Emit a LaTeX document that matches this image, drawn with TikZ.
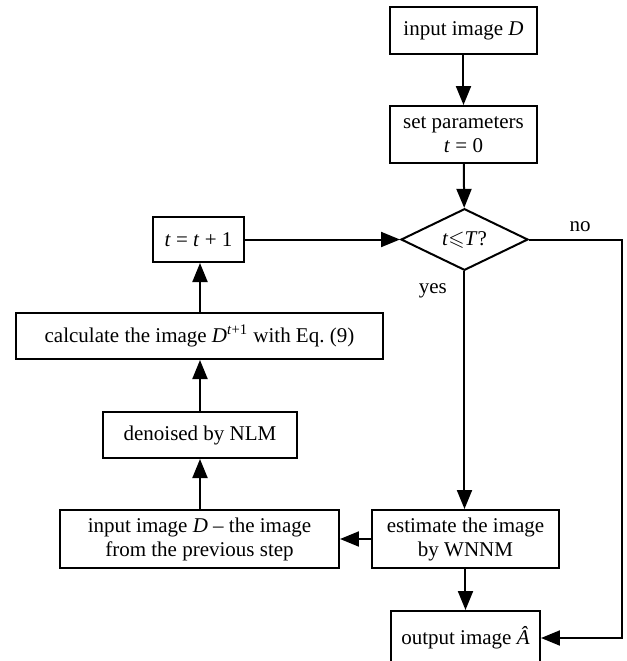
\documentclass[tikz,border=0pt]{standalone}
\usepackage{amsmath,amssymb}
\usepackage{fontspec}
\setmainfont{Liberation Serif}
\usetikzlibrary{arrows.meta,shapes.geometric}

\begin{document}
\begin{tikzpicture}[x=0.5pt,y=-0.5pt,>={Triangle[length=9.5pt,width=7.5pt]},
  line width=1pt,font=\fontsize{10.5}{12}\selectfont,
  box/.style={draw,align=center,inner sep=1pt},
  test/.style={draw,diamond,inner sep=0pt,minimum width=63.5pt,minimum height=28.5pt}]
% pixel grid of the page: x 0..627, y 0..661 (downwards)
\clip (0,0) rectangle (627,661);
% --- main column ---
\node[box,minimum width=73.5pt,minimum height=23.5pt] (inp) at (463.5,30.5) {input image \textit{D}};
\node[box,minimum width=73.5pt,minimum height=28.5pt] (par) at (463.5,134.5) {set parameters\\\textit{t} = 0};
\node[test] (tst) at (464.5,239.5) {\textit{t}$\leqslant$\textit{T}?};
\node[box,minimum width=93.5pt,minimum height=29pt] (est) at (465.5,539) {estimate the image\\by WNNM};
\node[box,minimum width=74.5pt,minimum height=27pt] (out) at (465.5,638) {output image \textit{Â}};
% --- loop column ---
\node[box,minimum width=45.5pt,minimum height=22.5pt] (inc) at (198.5,239.5) {\textit{t} = \textit{t} + 1};
\node[box,minimum width=183.5pt,minimum height=23pt] (cal) at (199.5,336) {calculate the image \textit{D}\textsuperscript{\textit{t}+1} with Eq.~(9)};
\node[box,minimum width=97pt,minimum height=23pt] (nlm) at (200,435) {denoised by NLM};
\node[box,minimum width=139.5pt,minimum height=29pt] (prv) at (199.5,539) {input image \textit{D} -- the image\\from the previous step};
\coordinate (rt) at (622,239.5); % right return line
% --- connectors ---
\draw[->] (inp) -- (par);
\draw[->] (par) -- (tst);
\draw[->] (tst.south) -- (tst.south |- est.north) node[pos=0.08,left=5pt] {yes};
\draw[->] (est) -- (out);
\draw[->] (est) -- (prv);
\draw[->] (prv.north -| nlm) -- (nlm);
\draw[->] (nlm) -- (nlm |- cal.south);
\draw[->] (nlm |- cal.north) -- (nlm |- inc.south);
\draw[->] (inc) -- (tst);
\draw[->] (tst.east) -- (rt) node[pos=0.55,above=0pt] {no} |- (out.east);
\end{tikzpicture}
\end{document}
